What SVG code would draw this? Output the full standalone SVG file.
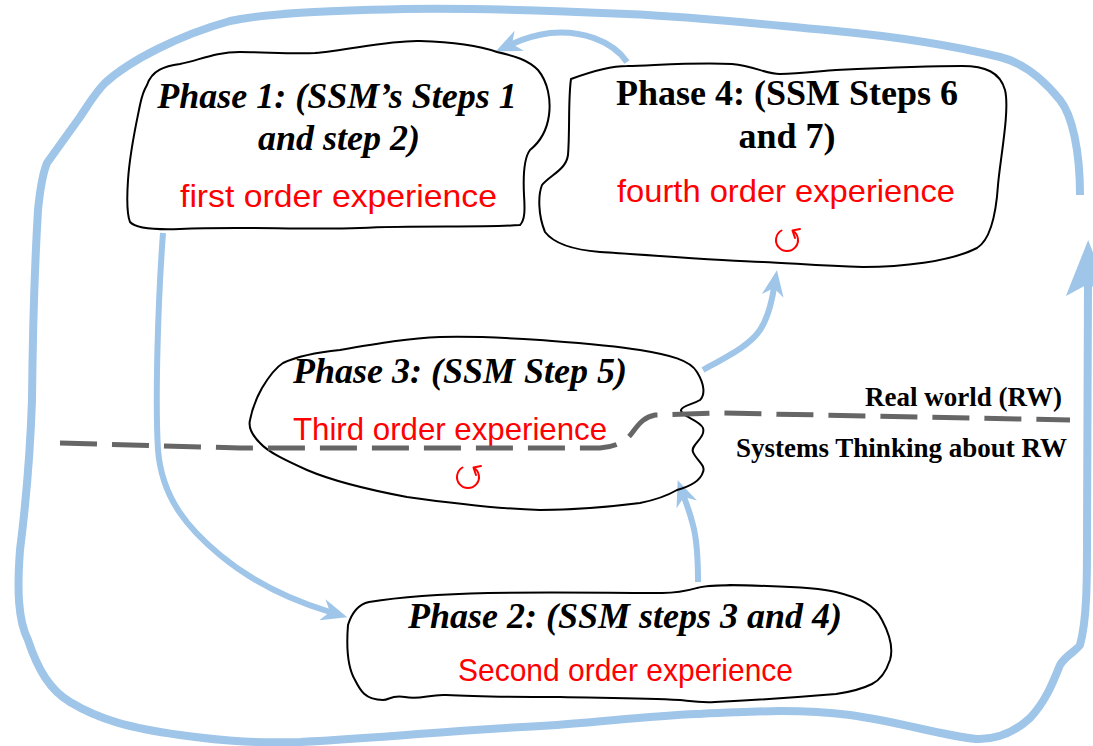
<svg xmlns="http://www.w3.org/2000/svg" width="1093" height="746" viewBox="0 0 1093 746">
<style>
.shape{fill:none;stroke:#000;stroke-width:2;stroke-linejoin:round}
.title{font-family:"Liberation Serif","Times New Roman",serif;font-weight:bold;font-size:36px;fill:#000}
.it{font-style:italic}
.exp{font-family:"Liberation Sans",Arial,sans-serif;font-size:32px;fill:#ff0000}
.flow{fill:none;stroke:#9fc5e8;stroke-width:6}
.loop{stroke-width:8}
.icon{fill:none;stroke:#ff0000;stroke-width:2;stroke-linecap:round;stroke-linejoin:round}
.boundary{fill:none;stroke:#666;stroke-width:5;stroke-dasharray:37 15}
.lbl{font-family:"Liberation Serif","Times New Roman",serif;font-weight:bold;font-size:27px;fill:#000}
</style>
<defs>
<marker id="arrowSmall" markerUnits="userSpaceOnUse" viewBox="0 0 26 22" markerWidth="26" markerHeight="22" refX="8" refY="11" orient="auto">
<path d="M0,0 L26,11 L0,22 L8,11 Z" fill="#9fc5e8"/>
</marker>
<marker id="arrowBig" markerUnits="userSpaceOnUse" viewBox="0 0 56 44" markerWidth="56" markerHeight="44" refX="12" refY="22" orient="auto">
<path d="M0,0 L56,22 L0,44 L12,22 Z" fill="#9fc5e8"/>
</marker>
</defs>

<g id="connectors">
<path id="outer-loop" class="flow loop" marker-end="url(#arrowBig)" d="M1080,195 C1080,150 1072,115 1060,100 C1040,75 1020,62 1000,57 C950,45 900,37 836,31 C760,24 700,17 627,14 C540,10 470,8 404,9 C320,11 270,13 230,21 C180,35 130,60 105,83 C95,93 88,105 80,117 L47,163 C42,175 40,190 38,210 C35,260 33,300 32,400 C30,460 25,510 20,550 C17,590 18,620 28,640 C38,670 50,690 70,702 C100,720 130,728 180,735 C230,742 260,743 300,742 C340,740 380,737 418,734 C470,730 520,727 557,725 C610,721 650,716 697,714 C760,711 800,709 850,715 C900,722 940,735 976,739 C1000,740 1017,730 1030,718 C1045,702 1052,685 1060,665 C1066,655 1075,652 1080,645 C1087,620 1087,580 1087,540 L1088,284"/>
<path id="p4-to-p1" class="flow" marker-end="url(#arrowSmall)" d="M627,62 C612,40 580,30 550,33 C535,35 525,38 512,44"/>
<path id="p1-to-p2" class="flow" marker-end="url(#arrowSmall)" d="M163,233 C158,300 155,400 158,450 C162,500 190,530 220,555 C250,580 290,600 330,612"/>
<path id="p3-to-p4" class="flow" marker-end="url(#arrowSmall)" d="M703,370 C730,355 750,345 760,330 C768,318 772,300 774,288"/>
<path id="p2-to-p3" class="flow" marker-end="url(#arrowSmall)" d="M698,582 C698,560 697,540 693,525 C690,513 687,505 684,497"/>
</g>

<g id="phase1">
<path class="shape" d="M147,85 C152,70 165,66 180,64 C200,60 215,52 240,52 C265,52 290,54 315,53 C350,50 390,40 420,41 C455,42 480,46 497,52 C515,56 528,60 538,70 C548,82 551,100 549,115 C547,130 540,142 530,150 C524,158 523,175 524,195 C525,210 525,220 520,225 C480,228 420,225 360,228 C300,230 240,226 180,229 C150,230 135,228 130,222 C126,212 127,195 128,180 C130,150 137,120 140,105 C142,95 144,90 147,85 Z"/>
<text class="title it" x="337" y="108" text-anchor="middle">Phase 1: (SSM’s Steps 1</text>
<text class="title it" x="339" y="150" text-anchor="middle">and step 2)</text>
<text class="exp" x="180" y="207" textLength="317" lengthAdjust="spacingAndGlyphs">first order experience</text>
</g>

<g id="phase4">
<path class="shape" d="M571,79 C590,72 610,66 627,66 C660,65 700,62 732,64 C755,66 765,74 780,74 C800,74 820,71 836,70 C880,68 930,66 962,66 C985,66 1000,72 1005,90 C1010,110 1000,160 998,185 C996,215 990,240 977,248 C950,262 900,267 863,267 C820,266 790,263 763,262 C720,261 650,255 600,252 C575,250 555,245 545,232 C538,215 538,195 542,185 C550,175 566,170 568,155 C570,130 568,100 571,79 Z"/>
<text class="title" x="787" y="105" text-anchor="middle">Phase 4: (SSM Steps 6</text>
<text class="title" x="787" y="148" text-anchor="middle">and 7)</text>
<text class="exp" x="617" y="202" textLength="338" lengthAdjust="spacingAndGlyphs">fourth order experience</text>
<path class="icon" d="M781.5,230.5 A11,11 0 1 0 792.5,230.5 M795,238 L792.5,230.5 L800,229"/>
</g>

<g id="phase3">
<path class="shape" d="M283,363 C300,355 320,352 340,350 C380,343 410,338 440,337 C480,336 510,338 540,340 C580,343 610,345 640,350 C670,355 690,360 697,372 C705,385 705,395 700,400 C692,405 683,405 681,410 C680,416 700,420 703,428 C706,438 690,445 693,452 C696,460 706,465 703,472 C700,482 688,487 677,490 C665,497 655,500 640,503 C600,508 570,510 540,510 C500,509 450,503 407,497 C370,490 335,482 307,470 C285,460 268,452 260,443 C252,435 248,428 250,420 C253,405 258,395 262,388 C268,378 275,368 283,363 Z"/>
<text class="title it" x="460" y="383" text-anchor="middle">Phase 3: (SSM Step 5)</text>
<text class="exp" x="293" y="440" textLength="314" lengthAdjust="spacingAndGlyphs">Third order experience</text>
<path class="icon" d="M462.5,467.5 A11,11 0 1 0 473.5,467.5 M476,475 L473.5,467.5 L481,466"/>
</g>

<g id="phase2">
<path class="shape" d="M348,625 C352,612 360,604 369,602 C400,597 440,594 488,593 C550,592 610,593 662,593 C680,593 690,590 697,588 C710,584 740,585 767,586 C800,587 820,588 836,592 C860,598 875,605 882,620 C890,635 893,650 890,660 C886,672 880,680 872,684 C860,690 850,692 836,694 C800,697 760,700 715,702 C700,703 690,701 680,700 C640,698 600,698 560,697 C520,697 480,697 446,695 C430,694 420,700 405,697 C390,695 390,700 383,700 C365,700 360,690 355,680 C348,668 346,650 348,625 Z"/>
<text class="title it" x="625" y="628" text-anchor="middle">Phase 2: (SSM steps 3 and 4)</text>
<text class="exp" x="458" y="681" textLength="335" lengthAdjust="spacingAndGlyphs">Second order experience</text>
</g>

<g id="boundary">
<path class="boundary" d="M60,443 L240,448 L600,448 C615,447 625,442 632,433 C640,422 645,417 655,415 L720,413 L1070,420"/>
<text class="lbl" x="1062" y="406" text-anchor="end">Real world (RW)</text>
<text class="lbl" x="1067" y="457" text-anchor="end">Systems Thinking about RW</text>
</g>
</svg>
